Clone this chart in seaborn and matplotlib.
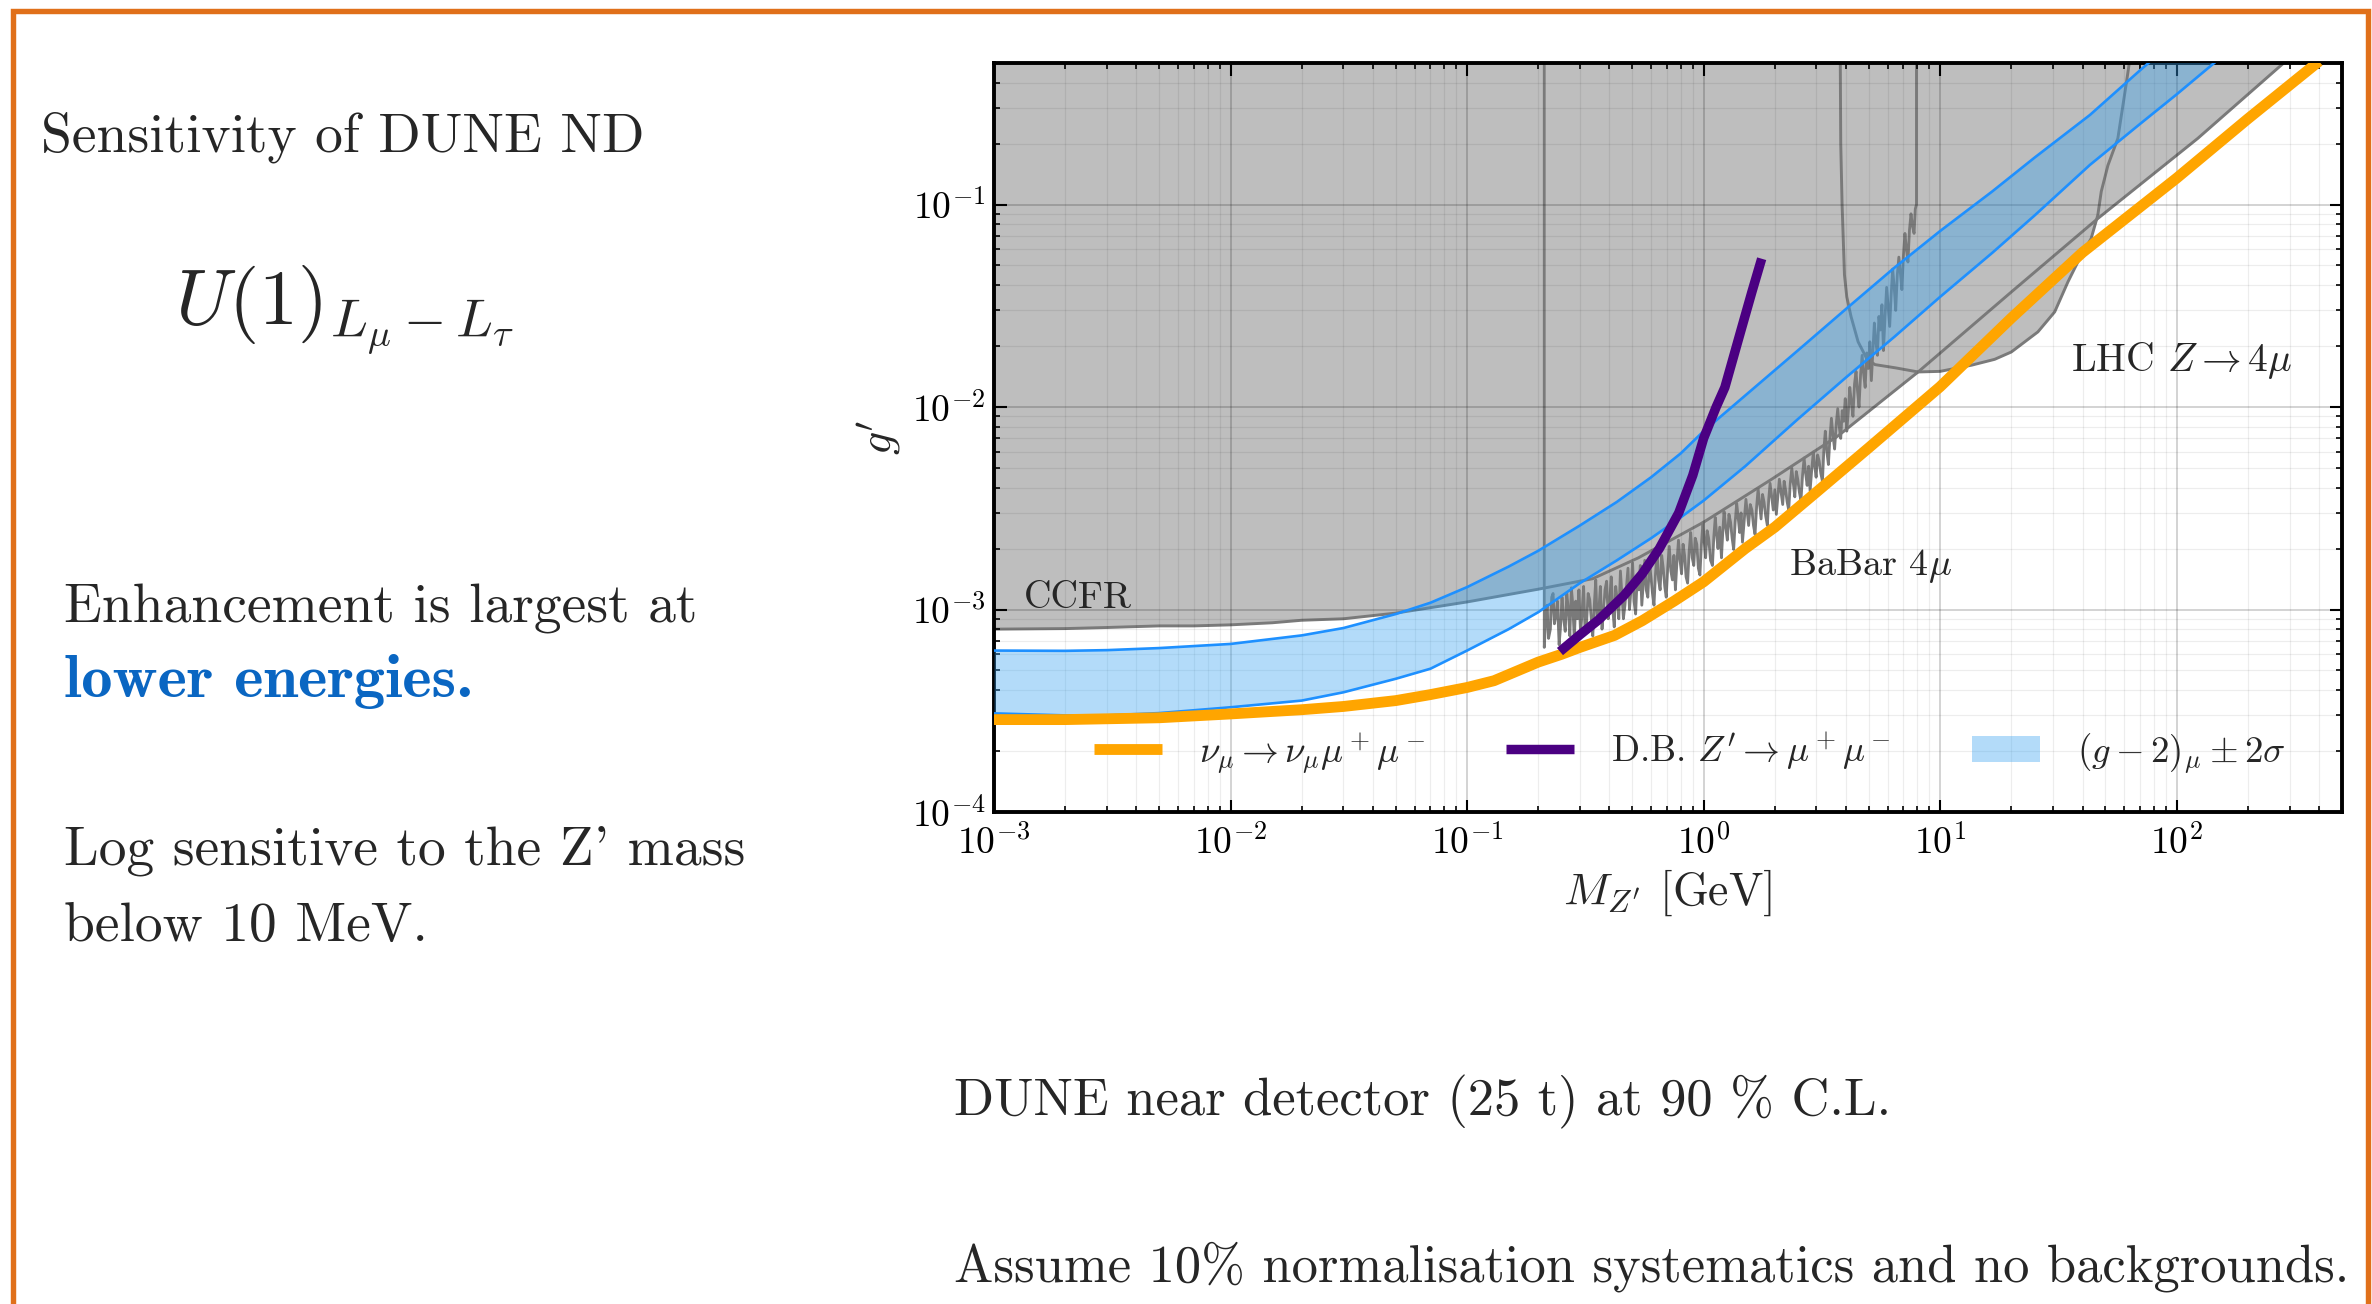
import matplotlib
matplotlib.use("Agg")
import matplotlib.pyplot as plt
import seaborn as sns
from matplotlib.patches import Rectangle, Patch
from matplotlib.lines import Line2D

# ---------------- data (M in GeV, coupling g') ----------------
# DUNE ND sensitivity, nu_mu -> nu_mu mu+ mu-
trident_mass = [1e-3, 2e-3, 5e-3, 1e-2, 2e-2, 3e-2, 5e-2, 7e-2, 0.1, 0.13, 0.2, 0.25,
                0.3, 0.42, 0.55, 0.75, 1.0, 1.5, 2.0, 3.0, 5.0, 10, 20, 40, 100, 200, 400]
trident_g = [2.86e-4, 2.86e-4, 2.92e-4, 3.05e-4, 3.2e-4, 3.32e-4, 3.55e-4, 3.8e-4, 4.12e-4,
             4.45e-4, 5.5e-4, 6.0e-4, 6.5e-4, 7.45e-4, 8.8e-4, 1.1e-3, 1.37e-3, 2.0e-3,
             2.55e-3, 3.8e-3, 6.3e-3, 0.0126, 0.0275, 0.058, 0.135, 0.265, 0.51]

# dark bremsstrahlung Z' -> mu+ mu-
darkbrem_mass = [0.247, 0.30, 0.36, 0.46, 0.55, 0.65, 0.785, 0.90, 1.0, 1.13, 1.23, 1.44, 1.60, 1.76]
darkbrem_g = [6.2e-4, 7.5e-4, 8.9e-4, 1.17e-3, 1.5e-3, 2.0e-3, 3.0e-3, 4.6e-3, 7.0e-3,
              1.0e-2, 1.25e-2, 2.4e-2, 3.7e-2, 5.4e-2]

# (g-2)_mu preferred band, +/- 2 sigma
band_mass = [1e-3, 2e-3, 3e-3, 5e-3, 1e-2, 2e-2, 3e-2, 5e-2, 7e-2, 0.1, 0.15, 0.2, 0.3,
             0.43, 0.6, 0.8, 1.0, 1.5, 2.5, 4.0, 6.4, 10, 16.6, 25, 43, 70, 100, 150]
band_upper = [6.27e-4, 6.25e-4, 6.3e-4, 6.45e-4, 6.76e-4, 7.45e-4, 8.1e-4, 9.5e-4, 1.08e-3,
              1.29e-3, 1.63e-3, 1.95e-3, 2.6e-3, 3.4e-3, 4.5e-3, 5.9e-3, 7.6e-3, 0.0114,
              0.019, 0.0305, 0.0487, 0.074, 0.116, 0.17, 0.277, 0.46, 0.66, 0.98]
band_lower = [3.07e-4, 3.0e-4, 3.0e-4, 3.08e-4, 3.29e-4, 3.55e-4, 3.9e-4, 4.55e-4, 5.1e-4,
              6.27e-4, 8.0e-4, 9.7e-4, 1.35e-3, 1.75e-3, 2.25e-3, 2.85e-3, 3.45e-3, 5.1e-3,
              8.7e-3, 0.0140, 0.0222, 0.035, 0.0577, 0.088, 0.157, 0.25, 0.35, 0.52]

# CCFR exclusion boundary
ccfr_mass = [1e-3, 2e-3, 3e-3, 5e-3, 7e-3, 1e-2, 1.5e-2, 2e-2, 3e-2, 5e-2, 0.1, 0.2, 0.34,
             0.53, 1.0, 1.94, 3.7, 8.07, 20, 46.4, 122.7, 300]
ccfr_g = [8.0e-4, 8.05e-4, 8.15e-4, 8.3e-4, 8.3e-4, 8.4e-4, 8.6e-4, 8.85e-4, 9.0e-4, 9.6e-4,
          1.09e-3, 1.26e-3, 1.42e-3, 1.8e-3, 2.7e-3, 4.4e-3, 7.2e-3, 0.0149, 0.037, 0.0853,
          0.212, 0.53]

# BaBar 4mu exclusion boundary
babar_mass = [
    0.212, 0.215, 0.218, 0.221, 0.225, 0.228, 0.231, 0.234, 0.238, 0.241,
    0.245, 0.248, 0.252, 0.256, 0.260, 0.264, 0.268, 0.272, 0.276, 0.280,
    0.284, 0.288, 0.293, 0.297, 0.302, 0.306, 0.311, 0.315, 0.320, 0.325,
    0.330, 0.335, 0.340, 0.345, 0.350, 0.355, 0.361, 0.366, 0.372, 0.377,
    0.383, 0.389, 0.395, 0.401, 0.407, 0.413, 0.419, 0.425, 0.432, 0.438,
    0.445, 0.451, 0.458, 0.465, 0.472, 0.479, 0.486, 0.493, 0.501, 0.508,
    0.516, 0.524, 0.532, 0.540, 0.548, 0.556, 0.564, 0.572, 0.581, 0.590,
    0.599, 0.608, 0.617, 0.626, 0.636, 0.645, 0.655, 0.665, 0.675, 0.685,
    0.695, 0.705, 0.716, 0.727, 0.738, 0.749, 0.760, 0.771, 0.783, 0.795,
    0.807, 0.819, 0.831, 0.843, 0.856, 0.869, 0.882, 0.895, 0.909, 0.922,
    0.936, 0.950, 0.965, 0.979, 0.994, 1.007, 1.02, 1.035, 1.05, 1.07,
    1.09, 1.105, 1.12, 1.135, 1.15, 1.17, 1.19, 1.205, 1.22, 1.24,
    1.26, 1.28, 1.30, 1.32, 1.34, 1.36, 1.38, 1.40, 1.42, 1.44,
    1.46, 1.485, 1.51, 1.53, 1.55, 1.575, 1.60, 1.625, 1.65, 1.675,
    1.70, 1.725, 1.75, 1.775, 1.80, 1.83, 1.86, 1.885, 1.91, 1.94,
    1.97, 2.00, 2.03, 2.06, 2.09, 2.125, 2.16, 2.19, 2.22, 2.255,
    2.29, 2.325, 2.36, 2.395, 2.43, 2.465, 2.50, 2.54, 2.58, 2.62,
    2.66, 2.70, 2.74, 2.78, 2.82, 2.865, 2.91, 2.95, 2.99, 3.035,
    3.08, 3.13, 3.18, 3.225, 3.27, 3.32, 3.37, 3.42, 3.47, 3.525,
    3.58, 3.635, 3.69, 3.745, 3.80, 3.855, 3.91, 3.97, 4.03, 4.09,
    4.15, 4.215, 4.28, 4.345, 4.41, 4.475, 4.54, 4.61, 4.68, 4.75,
    4.82, 4.895, 4.97, 5.045, 5.12, 5.195, 5.27, 5.35, 5.43, 5.51,
    5.59, 5.675, 5.76, 5.85, 5.94, 6.03, 6.12, 6.21, 6.30, 6.395,
    6.49, 6.59, 6.69, 6.79, 6.89, 6.995, 7.10, 7.205, 7.31, 7.42,
    7.53, 7.645, 7.76, 7.85, 7.94]
babar_g = [
    6.5e-4, 9.0e-4, 1.05e-3, 7.2e-4, 8.0e-4, 1.15e-3, 1.20e-3, 8.5e-4, 9.5e-4, 1.10e-3,
    6.7e-4, 8.0e-4, 1.15e-3, 9.0e-4, 7.8e-4, 1.20e-3, 1.00e-3, 7.4e-4, 1.28e-3, 1.05e-3,
    7.0e-4, 1.10e-3, 9.0e-4, 1.25e-3, 7.5e-4, 9.5e-4, 1.30e-3, 8.0e-4, 8.5e-4, 1.20e-3,
    1.12e-3, 9.0e-4, 7.4e-4, 1.05e-3, 1.40e-3, 8.5e-4, 1.00e-3, 1.30e-3, 8.0e-4, 9.5e-4,
    1.25e-3, 1.38e-3, 9.0e-4, 1.10e-3, 1.45e-3, 1.00e-3, 8.2e-4, 1.30e-3, 1.10e-3, 9.0e-4,
    1.55e-3, 1.20e-3, 9.0e-4, 1.05e-3, 1.30e-3, 1.60e-3, 1.00e-3, 1.25e-3, 1.70e-3, 1.10e-3,
    9.5e-4, 1.45e-3, 1.25e-3, 1.65e-3, 1.05e-3, 1.35e-3, 1.75e-3, 1.25e-3, 1.15e-3, 1.70e-3,
    1.45e-3, 1.20e-3, 1.05e-3, 1.50e-3, 1.95e-3, 1.40e-3, 1.25e-3, 1.85e-3, 1.60e-3, 1.30e-3,
    1.15e-3, 1.60e-3, 2.05e-3, 1.55e-3, 1.40e-3, 1.85e-3, 1.25e-3, 1.70e-3, 2.20e-3, 1.75e-3,
    1.50e-3, 2.10e-3, 1.85e-3, 1.45e-3, 1.35e-3, 1.95e-3, 2.40e-3, 1.80e-3, 1.65e-3, 2.25e-3,
    2.10e-3, 1.60e-3, 1.48e-3, 2.10e-3, 2.70e-3, 2.15e-3, 1.80e-3, 2.45e-3, 2.25e-3, 1.75e-3,
    1.65e-3, 2.30e-3, 2.85e-3, 2.35e-3, 2.00e-3, 2.55e-3, 1.80e-3, 2.40e-3, 3.05e-3, 2.55e-3,
    2.20e-3, 2.95e-3, 2.70e-3, 2.25e-3, 1.98e-3, 2.70e-3, 3.35e-3, 2.85e-3, 2.40e-3, 3.00e-3,
    2.15e-3, 2.75e-3, 3.50e-3, 3.00e-3, 2.60e-3, 3.30e-3, 3.10e-3, 2.60e-3, 2.35e-3, 3.20e-3,
    3.95e-3, 3.30e-3, 2.80e-3, 3.70e-3, 3.40e-3, 2.90e-3, 2.60e-3, 3.50e-3, 4.20e-3, 3.60e-3,
    3.10e-3, 3.90e-3, 2.95e-3, 3.60e-3, 4.40e-3, 3.80e-3, 3.30e-3, 4.30e-3, 3.90e-3, 3.40e-3,
    3.10e-3, 4.20e-3, 5.00e-3, 4.20e-3, 3.60e-3, 4.80e-3, 4.40e-3, 3.80e-3, 3.45e-3, 4.60e-3,
    5.60e-3, 4.70e-3, 4.10e-3, 5.10e-3, 3.85e-3, 4.90e-3, 6.00e-3, 5.10e-3, 4.50e-3, 5.80e-3,
    5.40e-3, 4.70e-3, 4.30e-3, 6.20e-3, 7.60e-3, 6.00e-3, 5.20e-3, 7.00e-3, 8.80e-3, 7.20e-3,
    6.20e-3, 8.20e-3, 9.80e-3, 8.00e-3, 7.00e-3, 9.60e-3, 8.50e-3, 1.10e-2, 7.60e-3, 9.50e-3,
    1.25e-2, 1.05e-2, 9.00e-3, 1.30e-2, 1.50e-2, 1.20e-2, 1.00e-2, 1.45e-2, 1.80e-2, 1.45e-2,
    1.25e-2, 1.85e-2, 1.55e-2, 2.10e-2, 1.35e-2, 1.90e-2, 2.60e-2, 2.10e-2, 1.80e-2, 2.80e-2,
    2.40e-2, 3.20e-2, 1.90e-2, 2.80e-2, 3.90e-2, 3.10e-2, 2.50e-2, 3.60e-2, 4.80e-2, 3.90e-2,
    3.00e-2, 4.50e-2, 5.50e-2, 4.60e-2, 3.80e-2, 5.60e-2, 7.20e-2, 6.00e-2, 5.20e-2, 7.50e-2,
    9.00e-2, 7.80e-2, 7.20e-2, 9.50e-2, 1.00e-1]

# LHC Z -> 4mu excluded contour
lhc_mass = [3.78, 3.80, 3.85, 3.94, 4.03, 4.20, 4.50, 4.90, 5.30, 6.50, 8.07, 10.0, 13.6,
            17.0, 20.0, 25.9, 30.5, 34.7, 38.2, 43.5, 46.4, 48.0, 51.2, 56.4, 61.5, 64.5]
lhc_g = [0.60, 0.20, 0.10, 0.045, 0.035, 0.028, 0.021, 0.0173, 0.0162, 0.0156, 0.0149,
         0.0150, 0.0161, 0.0172, 0.0187, 0.0235, 0.0295, 0.0415, 0.052, 0.068, 0.0886,
         0.116, 0.156, 0.212, 0.41, 0.60]

# ---------------- styling ----------------
ORANGE = "#ffa500"
PURPLE = "#4b0082"
BAND_LINE = "#1e90ff"
BAND_FILL = "#37a2f0"
BAND_ALPHA = 0.38
GRAY_FILL = "#bebebe"
GRAY_LINE = "#7a7a7a"
FRAME = "#e0701a"
HIGHLIGHT = "#0a66c2"
TOP = 1.0

sns.set_theme(style="ticks")
plt.rcParams.update({
    "font.family": ["cmr10"],
    "mathtext.fontset": "cm",
    "axes.formatter.use_mathtext": True,
})

W, H = 2372, 1304
fig = plt.figure(figsize=(W / 100, H / 100), dpi=100)
fig.patch.set_facecolor("white")
ax = fig.add_axes([994 / W, 1 - 812 / H, (2342 - 994) / W, (812 - 63) / H])
ax.set_facecolor("white")
ax.set_xscale("log")
ax.set_yscale("log")
ax.set_xlim(1e-3, 500)
ax.set_ylim(1e-4, 0.5)

# excluded regions
ax.fill_between(ccfr_mass, ccfr_g, TOP, color=GRAY_FILL, lw=0, zorder=1)
ax.fill_between(babar_mass, babar_g, TOP, color=GRAY_FILL, lw=0, zorder=1)
ax.fill(lhc_mass, lhc_g, color=GRAY_FILL, lw=0, zorder=1)

line_kw = dict(estimator=None, sort=False, ax=ax, legend=False)
sns.lineplot(x=ccfr_mass, y=ccfr_g, color=GRAY_LINE, lw=2.1, zorder=1.6, **line_kw)
sns.lineplot(x=[babar_mass[0]] + babar_mass + [babar_mass[-1]],
             y=[TOP] + babar_g + [TOP], color=GRAY_LINE, lw=2.0, zorder=1.6, **line_kw)
sns.lineplot(x=lhc_mass, y=lhc_g, color=GRAY_LINE, lw=2.1, zorder=1.6, **line_kw)

# (g-2) band
ax.fill_between(band_mass, band_lower, band_upper, color=BAND_FILL, alpha=BAND_ALPHA,
                lw=0, zorder=3)
sns.lineplot(x=band_mass, y=band_upper, color=BAND_LINE, lw=1.9, zorder=4, **line_kw)
sns.lineplot(x=band_mass, y=band_lower, color=BAND_LINE, lw=1.9, zorder=4, **line_kw)

# sensitivity curves
sns.lineplot(x=trident_mass, y=trident_g, color=ORANGE, lw=7.8, zorder=6,
             solid_capstyle="butt", **line_kw)
sns.lineplot(x=darkbrem_mass, y=darkbrem_g, color=PURPLE, lw=6.8, zorder=7,
             solid_capstyle="butt", **line_kw)

# region labels
ax.text(1.34e-3, 1.02e-3, "CCFR", fontsize=27.5, ha="left", va="baseline", zorder=8)
ax.text(2.29, 1.48e-3, r"BaBar $4\mu$", fontsize=27.5, ha="left", va="baseline", zorder=8)
ax.text(35.6, 0.0151, r"LHC $Z \to 4\mu$", fontsize=28.5, ha="left", va="baseline", zorder=8)

# grid, ticks, spines
ax.set_axisbelow(False)
ax.grid(True, which="major", color="black", alpha=0.22, lw=1.1)
ax.grid(True, which="minor", color="black", alpha=0.07, lw=0.9)
ax.tick_params(which="both", direction="in", top=True, right=True, colors="black")
ax.tick_params(which="major", length=9, width=1.5, labelsize=27)
ax.tick_params(axis="x", which="major", pad=9)
ax.tick_params(axis="y", which="major", pad=6)
ax.tick_params(which="minor", length=4.5, width=1.2)
for sp in ax.spines.values():
    sp.set_linewidth(2.8)
    sp.set_color("black")
    sp.set_visible(True)

ax.set_xlabel(r"$M_{Z'}$ [GeV]", fontsize=33, labelpad=4)
ax.set_ylabel(r"$g'$", fontsize=33, labelpad=6)

handles = [
    Line2D([], [], color=ORANGE, lw=7.8, solid_capstyle="butt"),
    Line2D([], [], color=PURPLE, lw=6.8, solid_capstyle="butt"),
    Patch(facecolor=BAND_FILL, alpha=BAND_ALPHA, edgecolor="none"),
]
labels = [r"$\nu_\mu \to \nu_\mu \mu^+ \mu^-$", r"D.B. $Z' \to \mu^+ \mu^-$",
          r"$(g-2)_\mu \pm 2\sigma$"]
leg = ax.legend(handles, labels, loc="center", bbox_to_anchor=(0.516, 0.08), ncol=3,
                frameon=False, fontsize=26.5, handlelength=1.85, handletextpad=1.0,
                columnspacing=2.2)
leg.set_zorder(10)

# slide text
fig.text(41 / W, 1 - 151.7 / H, "Sensitivity of DUNE ND", fontsize=40, va="baseline")
fig.text(175 / W, 1 - 325 / H, r"$U(1)_{L_\mu - L_\tau}$", fontsize=56, va="baseline")
fig.text(64 / W, 1 - 623 / H, "Enhancement is largest at", fontsize=40, va="baseline")
fig.text(64 / W, 1 - 697 / H, "lower energies.", fontsize=45, va="baseline",
         family="cmb10", color=HIGHLIGHT)
fig.text(64 / W, 1 - 865 / H, "Log sensitive to the Z' mass", fontsize=40, va="baseline")
fig.text(64 / W, 1 - 941 / H, "below 10 MeV.", fontsize=40, va="baseline")
fig.text(954.5 / W, 1 - 1115 / H, "DUNE near detector (25 t) at 90 % C.L.", fontsize=37.8,
         va="baseline")
fig.text(954.5 / W, 1 - 1281.7 / H,
         "Assume 10% normalisation systematics and no backgrounds.", fontsize=37.8,
         va="baseline")

# slide frame (open at the bottom)
fig.add_artist(Rectangle((13 / W, -0.05), (2368 - 13) / W, 1.05 - 10.5 / H,
                         transform=fig.transFigure, fill=False, edgecolor=FRAME,
                         lw=3.9, clip_on=False))

fig.savefig("out.png", dpi=100)
